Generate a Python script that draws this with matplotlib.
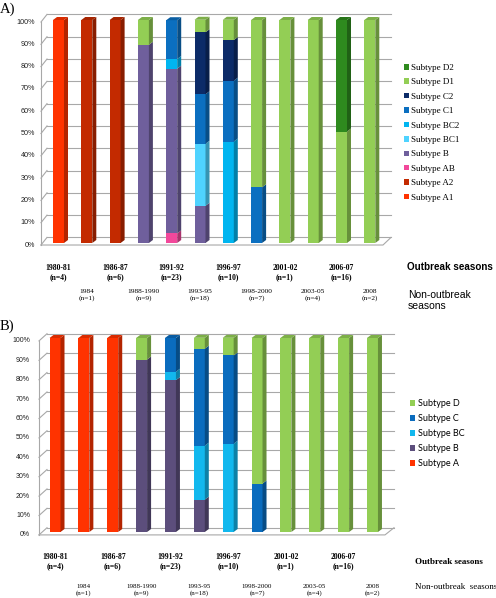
import numpy as np
import matplotlib
matplotlib.use('Agg')
import matplotlib.pyplot as plt
from matplotlib.patches import Patch, Polygon
from matplotlib.transforms import blended_transform_factory
from matplotlib.colors import to_rgb

# ---------------- data ----------------
seasons = ['1980-81', '1984', '1986-87', '1988-1990', '1991-92', '1993-95',
           '1996-97', '1998-2000', '2001-02', '2003-05', '2006-07', '2008']
season_n = [4, 1, 6, 9, 23, 18, 10, 7, 1, 4, 16, 2]
is_outbreak = [True, False, True, False, True, False,
               True, False, True, False, True, False]

# Panel A: detailed subtypes (% of isolates)
subtypes_a = ['Subtype A1', 'Subtype A2', 'Subtype AB', 'Subtype B', 'Subtype BC1',
              'Subtype BC2', 'Subtype C1', 'Subtype C2', 'Subtype D1', 'Subtype D2']
a_A1 = [100, 0, 0, 0, 0, 0, 0, 0, 0, 0, 0, 0]
a_A2 = [0, 100, 100, 0, 0, 0, 0, 0, 0, 0, 0, 0]
a_AB = [0, 0, 0, 0, 4.3, 0, 0, 0, 0, 0, 0, 0]
a_B = [0, 0, 0, 88.9, 73.9, 16.7, 0, 0, 0, 0, 0, 0]
a_BC1 = [0, 0, 0, 0, 0, 27.8, 0, 0, 0, 0, 0, 0]
a_BC2 = [0, 0, 0, 0, 4.3, 0, 45.5, 0, 0, 0, 0, 0]
a_C1 = [0, 0, 0, 0, 17.4, 22.2, 27.3, 25, 0, 0, 0, 0]
a_C2 = [0, 0, 0, 0, 0, 27.8, 18.2, 0, 0, 0, 0, 0]
a_D1 = [0, 0, 0, 11.1, 0, 5.6, 9.1, 75, 100, 100, 50, 100]
a_D2 = [0, 0, 0, 0, 0, 0, 0, 0, 0, 0, 50, 0]
colors_a = ['#FF3300', '#C32A00', '#F2489B', '#6F5F9C', '#4FD3FF',
            '#00B5F0', '#0B6FC0', '#0C2B68', '#93CE55', '#2E8A1E']

# Panel B: grouped subtypes
subtypes_b = ['Subtype A', 'Subtype B', 'Subtype BC', 'Subtype C', 'Subtype D']
b_A = [100, 100, 100, 0, 0, 0, 0, 0, 0, 0, 0, 0]
b_B = [0, 0, 0, 88.9, 78.3, 16.7, 0, 0, 0, 0, 0, 0]
b_BC = [0, 0, 0, 0, 4.3, 27.8, 45.5, 0, 0, 0, 0, 0]
b_C = [0, 0, 0, 0, 17.4, 50.0, 45.5, 25, 0, 0, 0, 0]
b_D = [0, 0, 0, 11.1, 0, 5.6, 9.1, 75, 100, 100, 100, 100]
colors_b = ['#FF3300', '#5C4E7C', '#12B8EE', '#0A6CBE', '#93CE55']

pct_ticks = [0, 10, 20, 30, 40, 50, 60, 70, 80, 90, 100]

# ---------------- layout ----------------
FW, FH = 496, 598
fig = plt.figure(figsize=(FW / 100, FH / 100), dpi=100)
SERIF = ['Liberation Serif', 'DejaVu Serif']
SANS = ['Liberation Sans', 'DejaVu Sans']


def fx(p):
    return p / FW


def fy(p):
    return 1 - p / FH


def shade(c, f):
    r, g, b = to_rgb(c)
    return (r * f, g * f, b * f)


def draw_panel(g, series, colors):
    l, t, r, b = g['box']
    ax = fig.add_axes([fx(l), fy(b), (r - l) / FW, (b - t) / FH])
    ax.set_xlim((l - g['c0']) / g['step'], (r - g['c0']) / g['step'])
    ax.set_ylim((g['y0'] - b) / g['ppu'], (g['y0'] - t) / g['ppu'])
    ax.axis('off')

    def px_x(p):
        return (p - g['c0']) / g['step']

    bw = g['bar_w'] / g['step']
    dx = g['depth'][0] / g['step']
    dy = g['depth'][1] / g['ppu']
    fo, bo = g['front_off'], g['back_off']
    xfl, xbl, xfr, xbr = [px_x(p) for p in g['walls']]
    xlab = px_x(g['lab_right'])
    gc = '#A8A8A8'
    for v in pct_ticks:
        ax.plot([xbl, xbr], [v + bo] * 2, color=gc, lw=0.8, zorder=1)
        ax.plot([xfl, xbl], [v + fo, v + bo], color=gc, lw=0.8, zorder=1)
        ax.text(xlab, v + fo, f'{v}%', ha='right', va='center',
                fontsize=g['tick_fs'], family=SANS, color='#222222')
    ax.plot([xfl, xfl], [fo, 100 + fo], color=gc, lw=0.8, zorder=1)
    ax.plot([xfl, xfr, xbr], [fo, fo, bo], color=gc, lw=0.8, zorder=1)

    x = np.arange(len(seasons))
    bottom = np.zeros(len(x))
    top_col = [None] * len(x)
    for vals, col in zip(series, colors):
        vals = np.asarray(vals, float)
        ax.bar(x, vals, bottom=bottom, width=bw, color=col, lw=0, zorder=3)
        for i, (xi, b0, h) in enumerate(zip(x, bottom, vals)):
            if h > 0:
                ax.add_patch(Polygon([(xi + bw / 2, b0), (xi + bw / 2 + dx, b0 + dy),
                                      (xi + bw / 2 + dx, b0 + h + dy), (xi + bw / 2, b0 + h)],
                                     closed=True, fc=shade(col, 0.7), lw=0, zorder=3))
                top_col[i] = col
        bottom += vals
    for xi, tp, col in zip(x, bottom, top_col):
        ax.add_patch(Polygon([(xi - bw / 2, tp), (xi + bw / 2, tp),
                              (xi + bw / 2 + dx, tp + dy), (xi - bw / 2 + dx, tp + dy)],
                             closed=True, fc=shade(col, 0.85), lw=0, zorder=3))
    return ax


geom_a = dict(box=(0, 0, 496, 255), c0=58.5, step=28.3, y0=243, ppu=2.23,
              bar_w=11, depth=(4, 3), front_off=-0.9, back_off=2.5,
              walls=(41, 47, 383, 391), lab_right=35, tick_fs=5.2)
geom_b = dict(box=(0, 320, 496, 545), c0=55, step=28.86, y0=532, ppu=1.94,
              bar_w=11, depth=(4, 3), front_off=-1.5, back_off=2.2,
              walls=(39, 47, 385, 394), lab_right=30, tick_fs=5.0)

ax_a = draw_panel(geom_a, [a_A1, a_A2, a_AB, a_B, a_BC1, a_BC2, a_C1, a_C2, a_D1, a_D2], colors_a)
ax_b = draw_panel(geom_b, [b_A, b_B, b_BC, b_C, b_D], colors_b)

# legends
h_a = [Patch(facecolor=c, edgecolor='none') for c in colors_a][::-1]
fig.legend(h_a, subtypes_a[::-1], loc='upper left', bbox_to_anchor=(fx(404), fy(64)),
           frameon=False, prop={'family': SERIF, 'size': 6.5}, handlelength=0.55,
           handleheight=0.55, handletextpad=0.25, labelspacing=0.71, borderpad=0,
           borderaxespad=0)
h_b = [Patch(facecolor=c, edgecolor='none') for c in colors_b][::-1]
fig.legend(h_b, subtypes_b[::-1], loc='upper left', bbox_to_anchor=(fx(410), fy(399)),
           frameon=False, prop={'family': ['Lato', 'DejaVu Sans'], 'size': 6.5},
           handlelength=0.6, handleheight=0.6, handletextpad=0.3, labelspacing=0.66,
           borderpad=0, borderaxespad=0)

# panel letters
fig.text(fx(0), fy(9), 'A)', ha='left', va='center', fontsize=10.5, family=SERIF)
fig.text(fx(0), fy(326), 'B)', ha='left', va='center', fontsize=10.5, family=SERIF)

# season labels
for ax, oy, ny, nfs in [(ax_a, 272.5, 289, 5.3), (ax_b, 561.5, 584, 5.0)]:
    tr = blended_transform_factory(ax.transData, fig.transFigure)
    for i, (s, n, ob) in enumerate(zip(seasons, season_n, is_outbreak)):
        if ob:
            ax.text(i, fy(oy), f'{s}\n(n={n})', transform=tr, ha='center', va='center',
                    fontsize=5.5, fontweight='bold', family=SERIF, linespacing=1.2)
        else:
            ax.text(i, fy(ny), f'{s}\n(n={n})', transform=tr, ha='center', va='top',
                    fontsize=nfs, family=SERIF, linespacing=1.3, clip_on=False)

fig.text(fx(407), fy(267), 'Outbreak seasons', ha='left', va='center',
         fontsize=7.1, fontweight='bold', family=SANS)
fig.text(fx(408), fy(290), 'Non-outbreak\nseasons', ha='left', va='top',
         fontsize=7.5, family=SANS, linespacing=1.15)
fig.text(fx(415), fy(562), 'Outbreak seasons', ha='left', va='center',
         fontsize=6.5, fontweight='bold', family=SERIF)
fig.text(fx(415), fy(587), 'Non-outbreak  seasons', ha='left', va='center',
         fontsize=6.5, family=SERIF)

fig.savefig('out.png', dpi=100, facecolor='white')
